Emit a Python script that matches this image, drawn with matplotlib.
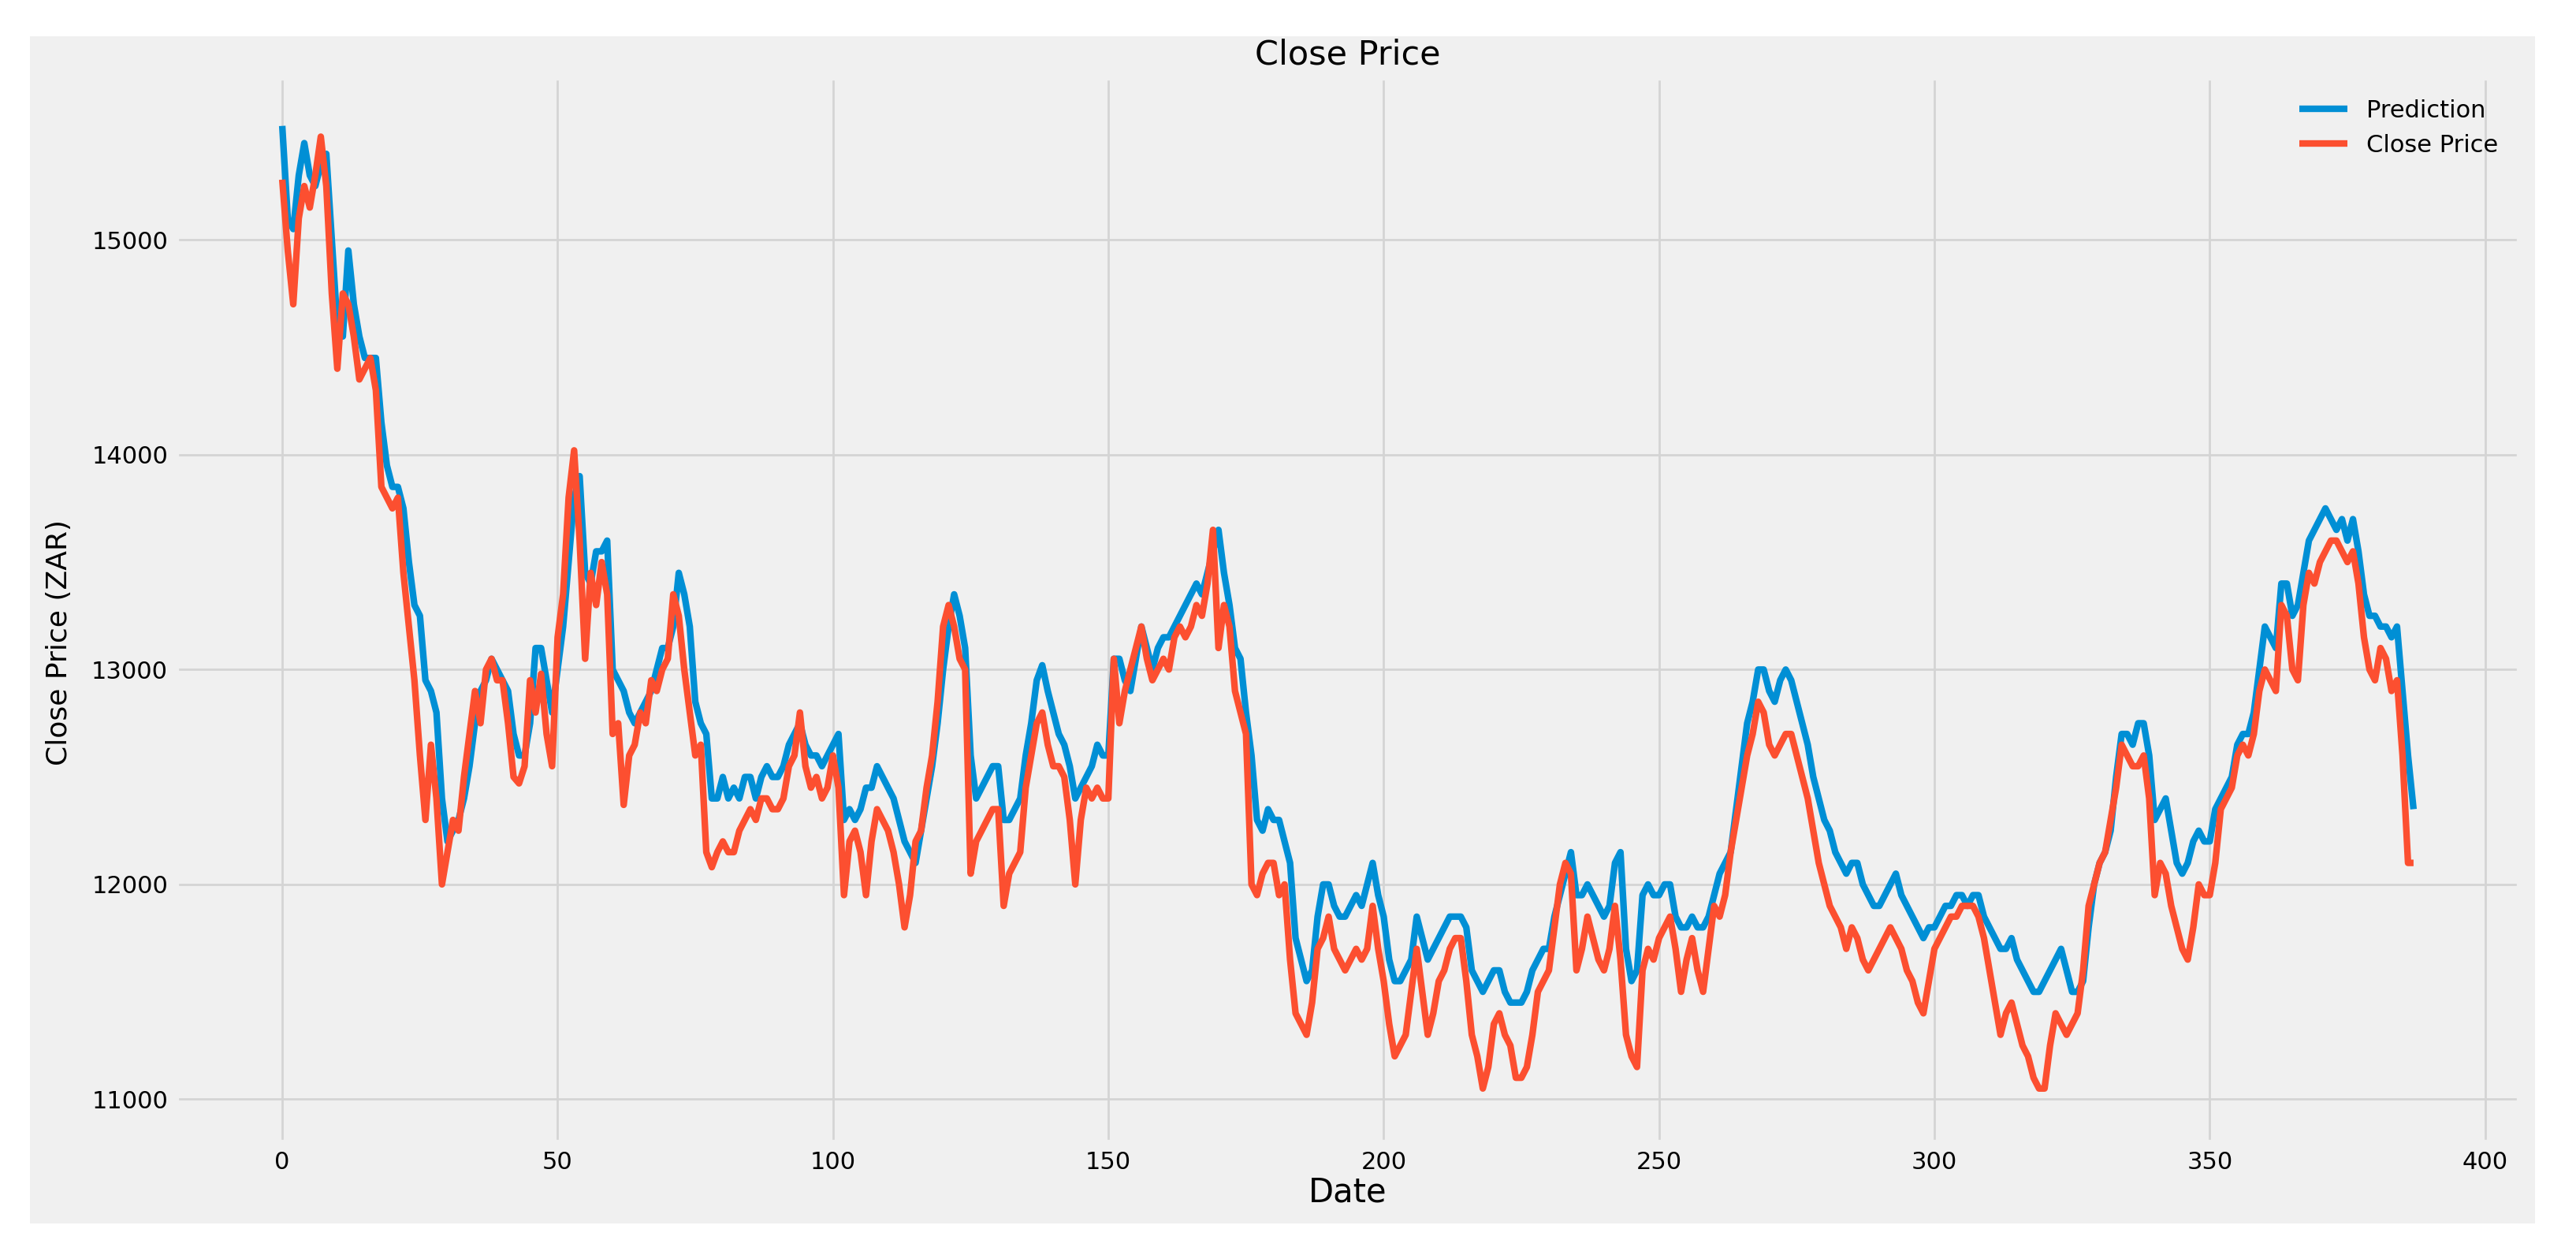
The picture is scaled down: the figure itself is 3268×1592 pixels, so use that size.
import matplotlib
matplotlib.use("Agg")
import matplotlib.pyplot as plt
from matplotlib.patches import Rectangle

plt.style.use('fivethirtyeight')

# closing prices (ZAR), one value per trading day
close_price = [
    15280, 14950, 14700, 15100, 15250, 15150, 15300, 15480, 15250, 14750,
    14400, 14750, 14700, 14550, 14350, 14400, 14450, 14300, 13850, 13800,
    13750, 13800, 13450, 13200, 12950, 12600, 12300, 12650, 12400, 12000,
    12150, 12300, 12250, 12500, 12700, 12900, 12750, 13000, 13050, 12950,
    12950, 12750, 12500, 12470, 12550, 12950, 12800, 12980, 12700, 12550,
    13150, 13350, 13800, 14020, 13600, 13050, 13450, 13300, 13500, 13350,
    12700, 12750, 12370, 12600, 12650, 12800, 12750, 12950, 12900, 13000,
    13050, 13350, 13250, 13000, 12800, 12600, 12650, 12150, 12080, 12150,
    12200, 12150, 12150, 12250, 12300, 12350, 12300, 12400, 12400, 12350,
    12350, 12400, 12550, 12600, 12800, 12550, 12450, 12500, 12400, 12450,
    12600, 12450, 11950, 12200, 12250, 12150, 11950, 12200, 12350, 12300,
    12250, 12150, 12000, 11800, 11950, 12200, 12250, 12450, 12600, 12850,
    13200, 13300, 13200, 13050, 13000, 12050, 12200, 12250, 12300, 12350,
    12350, 11900, 12050, 12100, 12150, 12450, 12600, 12750, 12800, 12650,
    12550, 12550, 12500, 12300, 12000, 12300, 12450, 12400, 12450, 12400,
    12400, 13050, 12750, 12900, 13000, 13100, 13200, 13050, 12950, 13000,
    13050, 13000, 13150, 13200, 13150, 13200, 13300, 13250, 13400, 13650,
    13100, 13300, 13200, 12900, 12800, 12700, 12000, 11950, 12050, 12100,
    12100, 11950, 12000, 11650, 11400, 11350, 11300, 11450, 11700, 11750,
    11850, 11700, 11650, 11600, 11650, 11700, 11650, 11700, 11900, 11700,
    11550, 11350, 11200, 11250, 11300, 11500, 11700, 11500, 11300, 11400,
    11550, 11600, 11700, 11750, 11750, 11550, 11300, 11200, 11050, 11150,
    11350, 11400, 11300, 11250, 11100, 11100, 11150, 11300, 11500, 11550,
    11600, 11800, 12000, 12100, 12050, 11600, 11700, 11850, 11750, 11650,
    11600, 11700, 11900, 11650, 11300, 11200, 11150, 11600, 11700, 11650,
    11750, 11800, 11850, 11700, 11500, 11650, 11750, 11600, 11500, 11700,
    11900, 11850, 11950, 12150, 12300, 12450, 12600, 12700, 12850, 12800,
    12650, 12600, 12650, 12700, 12700, 12600, 12500, 12400, 12250, 12100,
    12000, 11900, 11850, 11800, 11700, 11800, 11750, 11650, 11600, 11650,
    11700, 11750, 11800, 11750, 11700, 11600, 11550, 11450, 11400, 11550,
    11700, 11750, 11800, 11850, 11850, 11900, 11900, 11900, 11850, 11750,
    11600, 11450, 11300, 11400, 11450, 11350, 11250, 11200, 11100, 11050,
    11050, 11250, 11400, 11350, 11300, 11350, 11400, 11600, 11900, 12000,
    12100, 12150, 12300, 12450, 12650, 12600, 12550, 12550, 12600, 12400,
    11950, 12100, 12050, 11900, 11800, 11700, 11650, 11800, 12000, 11950,
    11950, 12100, 12350, 12400, 12450, 12600, 12650, 12600, 12700, 12900,
    13000, 12950, 12900, 13300, 13250, 13000, 12950, 13300, 13450, 13400,
    13500, 13550, 13600, 13600, 13550, 13500, 13550, 13400, 13150, 13000,
    12950, 13100, 13050, 12900, 12950, 12600, 12100, 12100,
]

# model predictions for the same days
prediction = [
    15530, 15100, 15050, 15300, 15450, 15300, 15250, 15350, 15400, 15000,
    14600, 14550, 14950, 14700, 14550, 14450, 14450, 14450, 14150, 13950,
    13850, 13850, 13750, 13500, 13300, 13250, 12950, 12900, 12800, 12400,
    12200, 12250, 12300, 12400, 12550, 12750, 12900, 12950, 13050, 13000,
    12950, 12900, 12700, 12600, 12600, 12750, 13100, 13100, 12950, 12800,
    13000, 13200, 13500, 13800, 13900, 13450, 13400, 13550, 13550, 13600,
    13000, 12950, 12900, 12800, 12750, 12800, 12850, 12900, 13000, 13100,
    13100, 13200, 13450, 13350, 13200, 12850, 12750, 12700, 12400, 12400,
    12500, 12400, 12450, 12400, 12500, 12500, 12400, 12500, 12550, 12500,
    12500, 12550, 12650, 12700, 12750, 12650, 12600, 12600, 12550, 12600,
    12650, 12700, 12300, 12350, 12300, 12350, 12450, 12450, 12550, 12500,
    12450, 12400, 12300, 12200, 12150, 12100, 12250, 12400, 12550, 12750,
    13000, 13200, 13350, 13250, 13100, 12600, 12400, 12450, 12500, 12550,
    12550, 12300, 12300, 12350, 12400, 12600, 12750, 12950, 13020, 12900,
    12800, 12700, 12650, 12550, 12400, 12450, 12500, 12550, 12650, 12600,
    12600, 13050, 13050, 12950, 12900, 13050, 13200, 13100, 13000, 13100,
    13150, 13150, 13200, 13250, 13300, 13350, 13400, 13350, 13450, 13550,
    13650, 13450, 13300, 13100, 13050, 12800, 12600, 12300, 12250, 12350,
    12300, 12300, 12200, 12100, 11750, 11650, 11550, 11600, 11850, 12000,
    12000, 11900, 11850, 11850, 11900, 11950, 11900, 12000, 12100, 11950,
    11850, 11650, 11550, 11550, 11600, 11650, 11850, 11750, 11650, 11700,
    11750, 11800, 11850, 11850, 11850, 11800, 11600, 11550, 11500, 11550,
    11600, 11600, 11500, 11450, 11450, 11450, 11500, 11600, 11650, 11700,
    11700, 11850, 11950, 12050, 12150, 11950, 11950, 12000, 11950, 11900,
    11850, 11900, 12100, 12150, 11700, 11550, 11600, 11950, 12000, 11950,
    11950, 12000, 12000, 11850, 11800, 11800, 11850, 11800, 11800, 11850,
    11950, 12050, 12100, 12150, 12350, 12550, 12750, 12850, 13000, 13000,
    12900, 12850, 12950, 13000, 12950, 12850, 12750, 12650, 12500, 12400,
    12300, 12250, 12150, 12100, 12050, 12100, 12100, 12000, 11950, 11900,
    11900, 11950, 12000, 12050, 11950, 11900, 11850, 11800, 11750, 11800,
    11800, 11850, 11900, 11900, 11950, 11950, 11900, 11950, 11950, 11850,
    11800, 11750, 11700, 11700, 11750, 11650, 11600, 11550, 11500, 11500,
    11550, 11600, 11650, 11700, 11600, 11500, 11500, 11550, 11800, 12000,
    12100, 12150, 12250, 12500, 12700, 12700, 12650, 12750, 12750, 12600,
    12300, 12350, 12400, 12250, 12100, 12050, 12100, 12200, 12250, 12200,
    12200, 12350, 12400, 12450, 12500, 12650, 12700, 12700, 12800, 13000,
    13200, 13150, 13100, 13400, 13400, 13250, 13300, 13450, 13600, 13650,
    13700, 13750, 13700, 13650, 13700, 13600, 13700, 13550, 13350, 13250,
    13250, 13200, 13200, 13150, 13200, 12900, 12600, 12350,
]

days = list(range(len(close_price)))

fig = plt.figure(figsize=(16.34, 7.96), dpi=200)
fig.patch.set_facecolor('white')
# grey panel with a thin white border around it
fig.patches.append(Rectangle((0.0115, 0.025), 0.9725, 0.946, transform=fig.transFigure,
                             facecolor='#f0f0f0', edgecolor='none', zorder=-10))

ax = fig.add_axes([0.0682, 0.089, 0.9101, 0.8492])
ax.set_facecolor('#f0f0f0')
ax.plot(days, prediction, linewidth=3.0, label='Prediction')
ax.plot(days, close_price, linewidth=3.0, label='Close Price')

ax.set_xlim(-19.35, 406.35)
ax.set_ylim(10795, 15755)
ax.set_xticks([0, 50, 100, 150, 200, 250, 300, 350, 400])
ax.set_yticks([11000, 12000, 13000, 14000, 15000])
ax.tick_params(labelsize=11)
ax.grid(True, color='#d4d4d4', linewidth=1.0)

ax.set_title('Close Price', fontsize=15.5)
ax.set_xlabel('Date', fontsize=15, labelpad=1)
ax.set_ylabel('Close Price (ZAR)', fontsize=13)
ax.yaxis.set_label_coords(-0.044, 0.47)
ax.legend(loc='upper right', fontsize=11, frameon=False)

fig.savefig('out.png', dpi=200, facecolor=fig.get_facecolor())
